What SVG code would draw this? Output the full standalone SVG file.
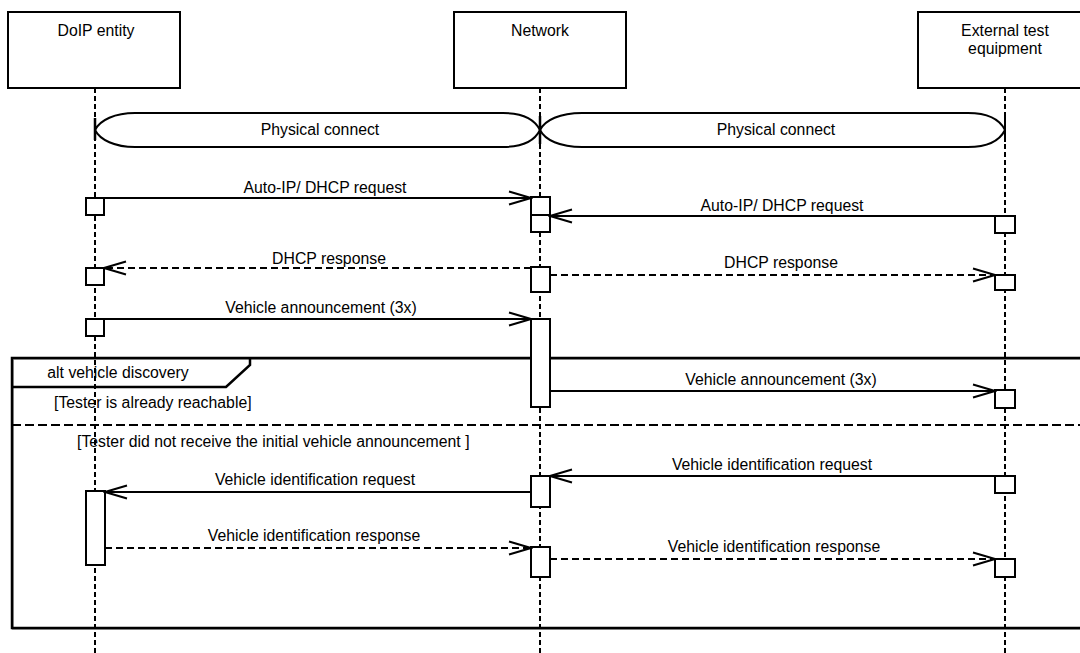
<svg xmlns="http://www.w3.org/2000/svg" width="1080" height="653" viewBox="0 0 1080 653">
<style>
text{font-family:"Liberation Sans",Arial,sans-serif;font-size:15.8px;fill:#000}
.c{text-anchor:middle}
.box{fill:#fff;stroke:#000;stroke-width:2}
.life{stroke:#000;stroke-width:2;stroke-dasharray:5,3;fill:none}
.msg{stroke:#000;stroke-width:2;fill:none}
.dash{stroke-dasharray:7,4}
.act{fill:#fff;stroke:#000;stroke-width:2}
.pc{fill:#fff;stroke:#000;stroke-width:2}
</style>
<defs>
<marker id="arr" viewBox="-24 -8 26 16" refX="0" refY="0" markerWidth="26" markerHeight="16" markerUnits="userSpaceOnUse" orient="auto">
<path d="M-22,-6.5 L0,0 L-22,6.5" fill="none" stroke="#000" stroke-width="2"/>
</marker>
</defs>
<rect width="1080" height="653" fill="#fff"/>

<g id="lifelines">
<line class="life" x1="95" y1="88" x2="95" y2="653"/>
<line class="life" x1="540" y1="88" x2="540" y2="653"/>
<line class="life" x1="1005" y1="88" x2="1005" y2="653"/>
</g>

<g id="doip-entity">
<rect class="box" x="8" y="12" width="172" height="76"/>
<text class="c" x="96" y="36">DoIP entity</text>
</g>
<g id="network">
<rect class="box" x="454" y="12" width="172" height="76"/>
<text class="c" x="540" y="36">Network</text>
</g>
<g id="external-test-equipment">
<rect class="box" x="918" y="12" width="174" height="76"/>
<text class="c" x="1005" y="36">External test</text>
<text class="c" x="1005" y="54">equipment</text>
</g>

<g id="physical-connect-1">
<path class="pc" d="M95,130 C100,120 115,113 135,113 L503,113 C523,113 535,120 540,130 C535,140 523,147 503,147 L135,147 C115,147 100,140 95,130 Z"/>
<text class="c" x="320" y="135">Physical connect</text>
</g>
<g id="physical-connect-2">
<path class="pc" d="M540,130 C545,120 560,113 582,113 L968,113 C988,113 1000,120 1005,130 C1000,140 988,147 968,147 L582,147 C560,147 545,140 540,130 Z"/>
<text class="c" x="776" y="135">Physical connect</text>
</g>
<g id="ticks">
<line x1="95" y1="118" x2="95" y2="140" stroke="#000" stroke-width="2.5"/>
<line x1="540" y1="116" x2="540" y2="144" stroke="#000" stroke-width="2.5"/>
<line x1="1005" y1="115" x2="1005" y2="142" stroke="#000" stroke-width="2"/>
</g>

<g id="alt-frame">
<rect x="13" y="359" width="1080" height="270" fill="none" stroke="#aaa" stroke-width="2"/>
<rect x="12" y="358" width="1080" height="270" fill="none" stroke="#000" stroke-width="2.5"/>
<path d="M12,387 L226,387 L250,365 L250,358" fill="none" stroke="#000" stroke-width="2.5"/>
<line x1="12" y1="425" x2="1080" y2="425" stroke="#000" stroke-width="2" stroke-dasharray="9,4"/>
<text class="c" x="118" y="378">alt vehicle discovery</text>
<text x="54" y="408">[Tester is already reachable]</text>
<text x="77" y="447">[Tester did not receive the initial vehicle announcement ]</text>
</g>

<g id="activations">
<rect class="act" x="86" y="198" width="18" height="17"/>
<rect class="act" x="86" y="268" width="18" height="17"/>
<rect class="act" x="86" y="319" width="18" height="17"/>
<rect class="act" x="86" y="491" width="19" height="74"/>
<rect class="act" x="531" y="197" width="19" height="18"/>
<rect class="act" x="531" y="215" width="19" height="17"/>
<rect class="act" x="531" y="267" width="19" height="25"/>
<rect class="act" x="531" y="319" width="19" height="88"/>
<rect class="act" x="531" y="476" width="19" height="31"/>
<rect class="act" x="531" y="547" width="19" height="30"/>
<rect class="act" x="995" y="216" width="20" height="17"/>
<rect class="act" x="995" y="275" width="20" height="15"/>
<rect class="act" x="995" y="390" width="20" height="18"/>
<rect class="act" x="995" y="476" width="20" height="17"/>
<rect class="act" x="995" y="559" width="20" height="18"/>
</g>

<g id="connectors">
<line class="msg" x1="104" y1="198" x2="531" y2="198" marker-end="url(#arr)"/>
<line class="msg" x1="995" y1="216" x2="550" y2="216" marker-end="url(#arr)"/>
<line class="msg dash" x1="531" y1="268" x2="104" y2="268" marker-end="url(#arr)"/>
<line class="msg dash" x1="550" y1="275" x2="995" y2="275" marker-end="url(#arr)"/>
<line class="msg" x1="104" y1="319" x2="531" y2="319" marker-end="url(#arr)"/>
<line class="msg" x1="550" y1="391" x2="995" y2="391" marker-end="url(#arr)"/>
<line class="msg" x1="995" y1="476" x2="550" y2="476" marker-end="url(#arr)"/>
<line class="msg" x1="531" y1="492" x2="105" y2="492" marker-end="url(#arr)"/>
<line class="msg dash" x1="105" y1="548" x2="531" y2="548" marker-end="url(#arr)"/>
<line class="msg dash" x1="550" y1="559" x2="995" y2="559" marker-end="url(#arr)"/>
</g>

<g id="labels">
<text class="c" x="325" y="193">Auto-IP/ DHCP request</text>
<text class="c" x="782" y="211">Auto-IP/ DHCP request</text>
<text class="c" x="329" y="264">DHCP response</text>
<text class="c" x="781" y="268">DHCP response</text>
<text class="c" x="321" y="313">Vehicle announcement (3x)</text>
<text class="c" x="781" y="385">Vehicle announcement (3x)</text>
<text class="c" x="772" y="470">Vehicle identification request</text>
<text class="c" x="315" y="485">Vehicle identification request</text>
<text class="c" x="314" y="541">Vehicle identification response</text>
<text class="c" x="774" y="552">Vehicle identification response</text>
</g>
</svg>
